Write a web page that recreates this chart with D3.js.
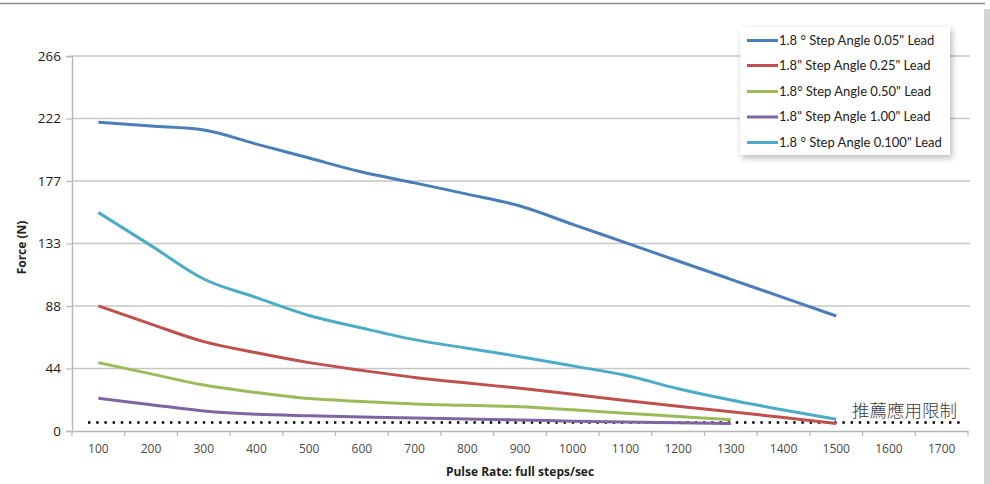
<!DOCTYPE html>
<html><head><meta charset="utf-8">
<script src="https://cdn.jsdelivr.net/npm/d3@7"></script>
<style>
html,body{margin:0;padding:0;background:#fff;}
svg{display:block;}
</style></head>
<body>
<svg id="chart" width="990" height="484"></svg>
<script>
const categories = [100,200,300,400,500,600,700,800,900,1000,1100,1200,1300,1400,1500,1600,1700];
const seriesNames = [
  '1.8 ° Step Angle 0.05" Lead',
  '1.8" Step Angle 0.25" Lead',
  '1.8° Step Angle 0.50" Lead',
  '1.8" Step Angle 1.00" Lead',
  '1.8 ° Step Angle 0.100" Lead'
];
const seriesColors = ["#4a7ebb","#c0504d","#9bbb59","#8064a2","#4bacc6"];
const lead005 = [219,216.3,213.5,203.5,193.6,183.7,176,168,159.6,146.6,133.6,120.6,107.6,94.6,81.6];
const lead025 = [88.7,75.8,63.4,55.5,48.5,43,38,34,30.3,26,21.7,17.6,13.7,9.5,5.4];
const lead050 = [48.5,40.5,32.6,27.3,23,21,19.2,18.2,17.2,15,12.6,10.3,8];
const lead100 = [23.2,18.7,14.2,11.8,10.8,10,9.2,8.5,7.8,7,6.3,5.8,5.3];
const lead0100 = [155,131.5,107.8,94.6,81.9,73,64.8,58.7,52.7,46.2,39.5,30,22,14.9,8.3];
const seriesValues = [lead005, lead025, lead050, lead100, lead0100];
const yTickValues = [0, 266/6, 266*2/6, 266*3/6, 266*4/6, 266*5/6, 266];
const yTickLabels = ["0","44","88","133","177","222","266"];
const yMax = 266;
const limitValue = 6;
const limitLabel = "推薦應用限制";
const xTitle = "Pulse Rate: full steps/sec";
const yTitle = "Force (N)";

const svg = d3.select("#chart");
const L = 72, R = 968, T = 56, B = 431;
const x = d3.scaleBand().domain(categories).range([L, R]).padding(0);
const y = d3.scaleLinear().domain([0, yMax]).range([B, T]);
const cx = c => x(c) + x.bandwidth()/2;

// frame decorations
svg.append("line").attr("x1",0).attr("x2",985).attr("y1",3.5).attr("y2",3.5)
  .attr("stroke","#8a8a8a").attr("stroke-width",1.5);
svg.append("rect").attr("x",984).attr("y",9).attr("width",6).attr("height",475).attr("fill","#d4d4d4");

const defs = svg.append("defs");
const f = defs.append("filter").attr("id","sh").attr("x","-10%").attr("y","-10%").attr("width","130%").attr("height","140%");
f.append("feDropShadow").attr("dx",2).attr("dy",3).attr("stdDeviation",3).attr("flood-color","#000").attr("flood-opacity",0.28);

// gridlines
svg.append("g").selectAll("line").data(yTickValues.slice(1)).join("line")
  .attr("x1",L).attr("x2",R+2).attr("y1",d=>y(d)).attr("y2",d=>y(d))
  .attr("stroke","#c6c6c6").attr("stroke-width",1.5);

// y axis
const yAxis = d3.axisLeft(y).tickValues(yTickValues).tickSize(6).tickPadding(5)
  .tickFormat((d,i)=>yTickLabels[i]);
const gy = svg.append("g").attr("transform",`translate(${L},0)`).call(yAxis);
gy.select(".domain").attr("stroke","#b8b8b8").attr("stroke-width",1.5);
gy.selectAll(".tick line").attr("stroke","#b8b8b8").attr("stroke-width",1.2);
gy.selectAll(".tick text").attr("font-family","Open Sans").attr("font-size",13.5).attr("fill","#1a1a1a");

// x axis
const xAxis = d3.axisBottom(x).tickSize(0).tickPadding(13);
const gx = svg.append("g").attr("transform",`translate(0,${B})`).call(xAxis);
gx.select(".domain").attr("stroke","#b8b8b8").attr("stroke-width",1.5);
gx.selectAll(".tick text").attr("font-family","Open Sans").attr("font-size",12).attr("fill","#4a4a4a");
const edges = categories.map(c=>x(c)).concat([x(categories[categories.length-1])+x.bandwidth()]);
svg.append("g").selectAll("line").data(edges).join("line")
  .attr("x1",d=>d).attr("x2",d=>d).attr("y1",B).attr("y2",B+5)
  .attr("stroke","#b8b8b8").attr("stroke-width",1.2);

// titles
svg.append("text").attr("x",(L+R)/2).attr("y",476).attr("text-anchor","middle")
  .attr("font-family","Open Sans").attr("font-weight","bold").attr("font-size",12).attr("fill","#222").text(xTitle);
svg.append("text").attr("transform",`translate(26,${(T+B)/2+4}) rotate(-90)`).attr("text-anchor","middle")
  .attr("font-family","Open Sans").attr("font-weight","bold").attr("font-size",12).attr("fill","#222").text(yTitle);

// limit dotted line
svg.append("line").attr("x1",88).attr("x2",964).attr("y1",y(limitValue)).attr("y2",y(limitValue))
  .attr("stroke","#000").attr("stroke-width",2.6).attr("stroke-dasharray","2.4,5.8");
svg.append("text").attr("x",852).attr("y",417).attr("font-family","Noto Sans CJK TC")
  .attr("font-weight",300).attr("font-size",17.5).attr("fill","#3a3a3a").text(limitLabel);

// series lines
const line = d3.line().x((d,i)=>cx(categories[i])).y(d=>y(d)).curve(d3.curveMonotoneX);
const drawOrder = [0,1,2,3,4];
svg.append("g").selectAll("path").data(drawOrder).join("path")
  .attr("d",i=>line(seriesValues[i])).attr("fill","none")
  .attr("stroke",i=>seriesColors[i]).attr("stroke-width",3).attr("stroke-linejoin","round");

// legend
const lg = svg.append("g");
lg.append("rect").attr("x",740).attr("y",27).attr("width",210).attr("height",128)
  .attr("fill","#fff").attr("filter","url(#sh)");
const rowY = [40.5,65.5,91.5,117,142.5];
const items = lg.selectAll("g.it").data(seriesNames).join("g").attr("class","it");
items.append("line").attr("x1",747).attr("x2",778).attr("y1",(d,i)=>rowY[i]).attr("y2",(d,i)=>rowY[i])
  .attr("stroke",(d,i)=>seriesColors[i]).attr("stroke-width",3);
items.append("text").attr("x",779).attr("y",(d,i)=>rowY[i]+4.4)
  .attr("font-family","Lato").attr("font-size",13).attr("fill","#222").text(d=>d);
</script>
</body></html>
